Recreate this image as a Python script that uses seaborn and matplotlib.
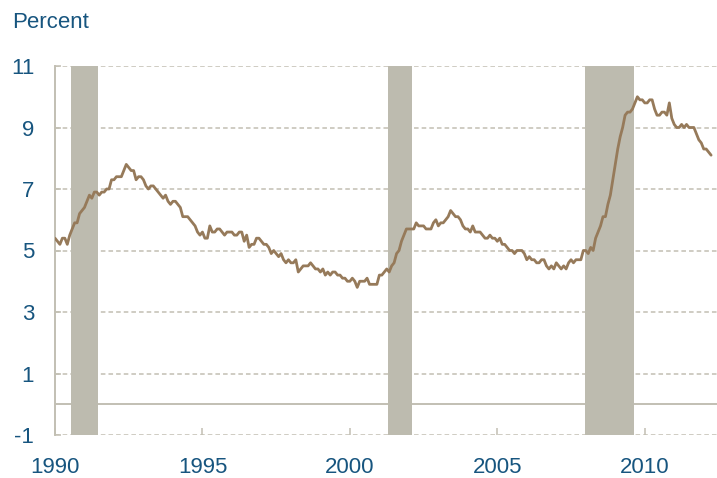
import numpy as np
import pandas as pd
import matplotlib
matplotlib.use("Agg")
import matplotlib.pyplot as plt
import seaborn as sns

# Monthly unemployment rate (percent), Jan 1990 - Apr 2012
rates_1990s = [
    5.4, 5.3, 5.2, 5.4, 5.4, 5.2, 5.5, 5.7, 5.9, 5.9, 6.2, 6.3,
    6.4, 6.6, 6.8, 6.7, 6.9, 6.9, 6.8, 6.9, 6.9, 7.0, 7.0, 7.3,
    7.3, 7.4, 7.4, 7.4, 7.6, 7.8, 7.7, 7.6, 7.6, 7.3, 7.4, 7.4,
    7.3, 7.1, 7.0, 7.1, 7.1, 7.0, 6.9, 6.8, 6.7, 6.8, 6.6, 6.5,
    6.6, 6.6, 6.5, 6.4, 6.1, 6.1, 6.1, 6.0, 5.9, 5.8, 5.6, 5.5,
    5.6, 5.4, 5.4, 5.8, 5.6, 5.6, 5.7, 5.7, 5.6, 5.5, 5.6, 5.6,
    5.6, 5.5, 5.5, 5.6, 5.6, 5.3, 5.5, 5.1, 5.2, 5.2, 5.4, 5.4,
    5.3, 5.2, 5.2, 5.1, 4.9, 5.0, 4.9, 4.8, 4.9, 4.7, 4.6, 4.7,
    4.6, 4.6, 4.7, 4.3, 4.4, 4.5, 4.5, 4.5, 4.6, 4.5, 4.4, 4.4,
    4.3, 4.4, 4.2, 4.3, 4.2, 4.3, 4.3, 4.2, 4.2, 4.1, 4.1, 4.0,
]
rates_2000s = [
    4.0, 4.1, 4.0, 3.8, 4.0, 4.0, 4.0, 4.1, 3.9, 3.9, 3.9, 3.9,
    4.2, 4.2, 4.3, 4.4, 4.3, 4.5, 4.6, 4.9, 5.0, 5.3, 5.5, 5.7,
    5.7, 5.7, 5.7, 5.9, 5.8, 5.8, 5.8, 5.7, 5.7, 5.7, 5.9, 6.0,
    5.8, 5.9, 5.9, 6.0, 6.1, 6.3, 6.2, 6.1, 6.1, 6.0, 5.8, 5.7,
    5.7, 5.6, 5.8, 5.6, 5.6, 5.6, 5.5, 5.4, 5.4, 5.5, 5.4, 5.4,
    5.3, 5.4, 5.2, 5.2, 5.1, 5.0, 5.0, 4.9, 5.0, 5.0, 5.0, 4.9,
    4.7, 4.8, 4.7, 4.7, 4.6, 4.6, 4.7, 4.7, 4.5, 4.4, 4.5, 4.4,
    4.6, 4.5, 4.4, 4.5, 4.4, 4.6, 4.7, 4.6, 4.7, 4.7, 4.7, 5.0,
    5.0, 4.9, 5.1, 5.0, 5.4, 5.6, 5.8, 6.1, 6.1, 6.5, 6.8, 7.3,
    7.8, 8.3, 8.7, 9.0, 9.4, 9.5, 9.5, 9.6, 9.8, 10.0, 9.9, 9.9,
]
rates_2010s = [
    9.8, 9.8, 9.9, 9.9, 9.6, 9.4, 9.4, 9.5, 9.5, 9.4, 9.8, 9.3,
    9.1, 9.0, 9.0, 9.1, 9.0, 9.1, 9.0, 9.0, 9.0, 8.8, 8.6, 8.5,
    8.3, 8.3, 8.2, 8.1,
]
start_year = 1990

# Recession bands (decimal years, as shaded in the chart)
recession_start = [1990.55, 2001.29, 2007.97]
recession_end = [1991.47, 2002.10, 2009.63]

y_ticks = [-1, 1, 3, 5, 7, 9, 11]
x_ticks = [1990, 1995, 2000, 2005, 2010]

rates = rates_1990s + rates_2000s + rates_2010s
df = pd.DataFrame({
    "date": start_year + np.arange(len(rates)) / 12.0,
    "rate": rates,
})

sns.set_theme(style="white")
plt.rcParams["font.family"] = ["Liberation Sans", "DejaVu Sans"]
plt.rcParams["axes.unicode_minus"] = False

text_color = "#17557F"
grid_color = "#C2BFB3"
shade_color = "#BDBBAF"
line_color = "#967A5A"

fig = plt.figure(figsize=(7.17, 4.78), dpi=100)
ax = fig.add_axes([55 / 717, 1 - 435 / 478, 1 - 55 / 717, (435 - 66) / 478])

# dashed gridlines
for yv in y_ticks:
    ax.axhline(yv, color=grid_color, lw=1.1, ls=(0, (3, 2)), zorder=1)
ax.axhline(0, color=grid_color, lw=1.4, zorder=1)

for s, e in zip(recession_start, recession_end):
    ax.axvspan(s, e, color=shade_color, lw=0, zorder=2)

sns.lineplot(data=df, x="date", y="rate", color=line_color, lw=2.0, ax=ax, zorder=3)

ax.set_xlim(1990, 2012.45)
ax.set_ylim(-1, 11)
ax.set_xticks(x_ticks)
ax.set_yticks(y_ticks)
ax.set_xlabel("")
ax.set_ylabel("")

for side in ["top", "right", "bottom"]:
    ax.spines[side].set_visible(False)
ax.spines["left"].set_color(grid_color)
ax.spines["left"].set_linewidth(1.4)

ax.tick_params(axis="y", direction="in", length=4, width=1.1, color=grid_color,
               labelsize=16, labelcolor=text_color, pad=15)
ax.tick_params(axis="x", direction="in", length=5, width=1.1, color=grid_color,
               labelsize=16, labelcolor=text_color, pad=16)
ax.tick_params(left=True, bottom=True)

fig.text(12 / 717, 1 - 22 / 478, "Percent", fontsize=16, color=text_color,
         ha="left", va="center")

fig.savefig("out.png", dpi=100)
